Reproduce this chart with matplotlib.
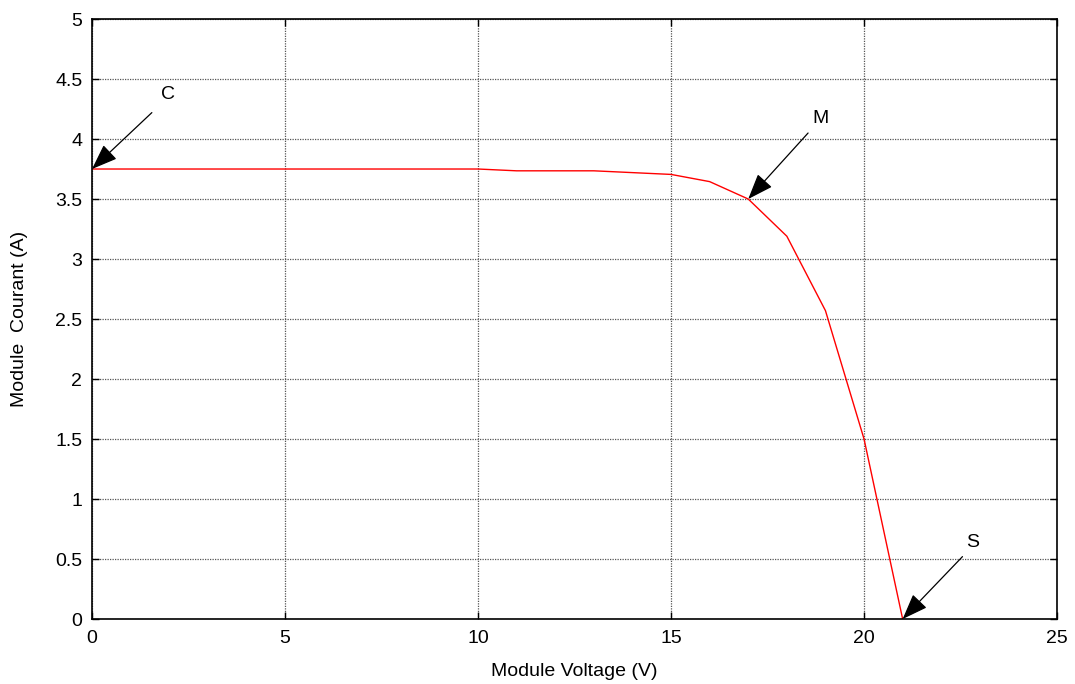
import matplotlib
matplotlib.use("Agg")
import matplotlib.pyplot as plt

plt.rcParams['font.family'] = ['Liberation Sans', 'DejaVu Sans']

# I-V curve of the PV module
voltage = [0, 10, 11, 13, 15, 16, 17, 18, 19, 20, 21]
current = [3.75, 3.75, 3.735, 3.735, 3.705, 3.645, 3.5, 3.19, 2.57, 1.5, 0.0]

# annotated points: label, arrow head (V, I), label position, arrow tail
notes = ['C', 'M', 'S']
note_heads = [(0, 3.75), (17, 3.5), (21, 0.0)]
note_text = [(1.97, 4.37), (18.86, 4.17), (22.8, 0.64)]
note_tails = [(1.55, 4.22), (18.55, 4.05), (22.55, 0.52)]

x_ticks = [0, 5, 10, 15, 20, 25]
y_ticks = [0, 0.5, 1, 1.5, 2, 2.5, 3, 3.5, 4, 4.5, 5]

fig = plt.figure(figsize=(10.75, 6.84), dpi=100)
ax = fig.add_axes([0.0856, 0.095, 0.8977, 0.8772])

ax.plot(voltage, current, color='red', lw=1)

for lbl, head, txt, tail in zip(notes, note_heads, note_text, note_tails):
    ax.annotate('', xy=head, xytext=tail,
                arrowprops=dict(arrowstyle='-|>,head_length=1.6,head_width=0.6',
                                color='black', lw=0.9, shrinkA=0, shrinkB=0))
    ax.text(txt[0], txt[1], lbl, fontsize=14, ha='center', va='center')

ax.set_xlim(0, 25)
ax.set_ylim(0, 5)
ax.set_xticks(x_ticks)
ax.set_yticks(y_ticks)
ax.set_yticklabels([f'{v:g}' for v in y_ticks])
ax.tick_params(direction='in', top=True, right=True, length=5, labelsize=14, width=1)
ax.tick_params(axis='x', pad=8)
ax.tick_params(axis='y', pad=7)
ax.grid(True, color='#555555', linestyle=(0, (1, 1)), lw=0.9)
for sp in ax.spines.values():
    sp.set_linewidth(1.2)

ax.set_xlabel('Module Voltage (V)', fontsize=14)
ax.set_ylabel('Module  Courant (A)', fontsize=14)
ax.xaxis.set_label_coords(0.5, -0.073)
ax.yaxis.set_label_coords(-0.0665, 0.5)

fig.savefig('out.png', dpi=100)
